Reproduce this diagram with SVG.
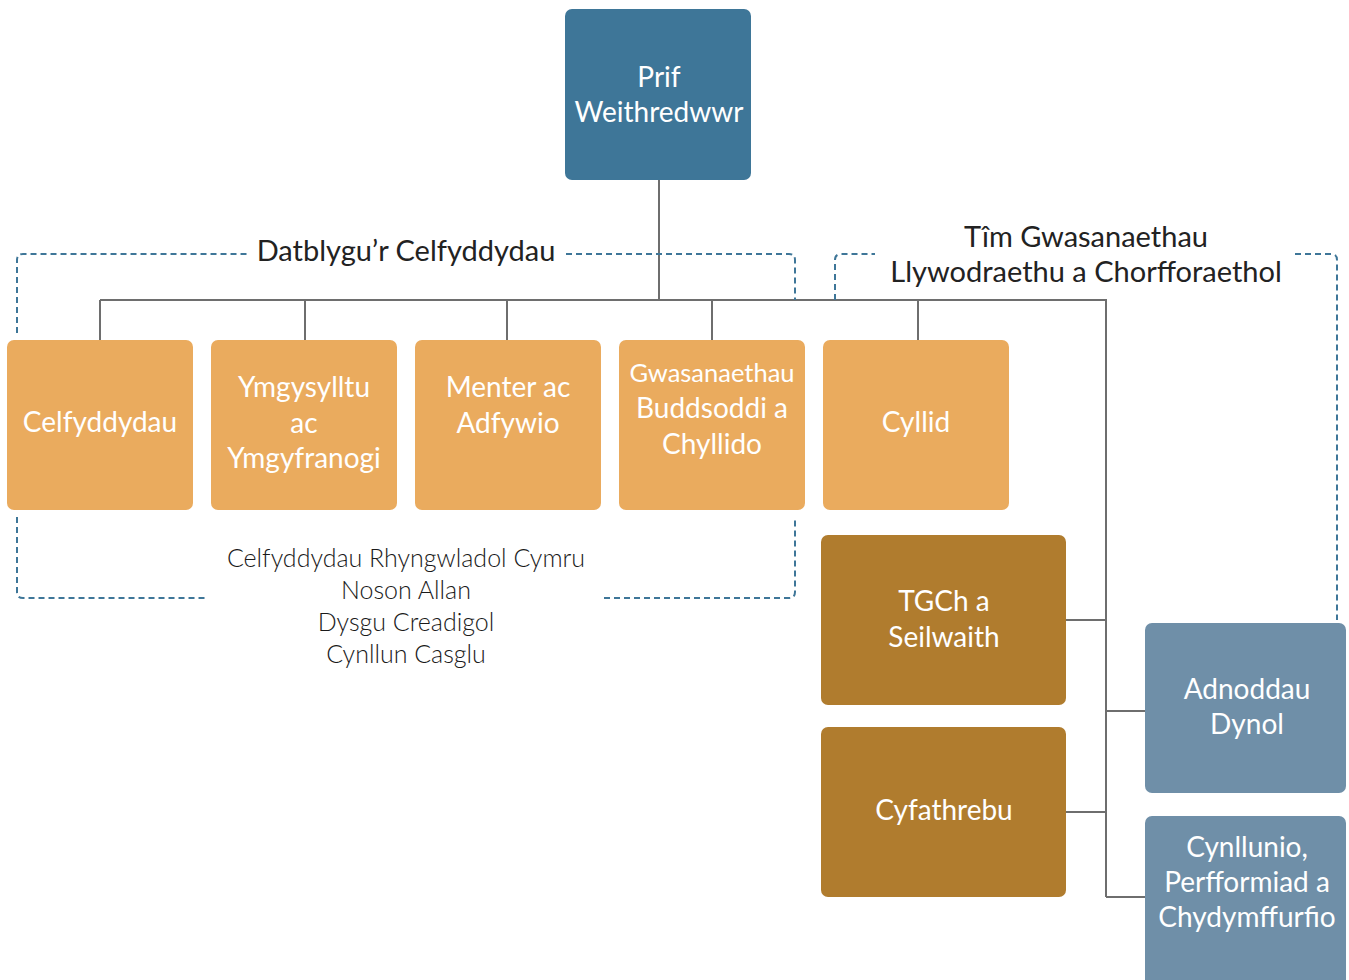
<svg xmlns="http://www.w3.org/2000/svg" width="1349" height="980" viewBox="0 0 1349 980">
<style>
.n text{font-family:Lato,"Open Sans","Liberation Sans",sans-serif;font-size:28px;fill:#ffffff;text-anchor:middle;dominant-baseline:central}
.lbl{font-family:Lato,"Open Sans","Liberation Sans",sans-serif;font-size:29px;fill:#222222;text-anchor:middle;dominant-baseline:central}
.lst{font-family:Lato,"Open Sans","Liberation Sans",sans-serif;font-size:25px;font-weight:300;fill:#1a1a1a;text-anchor:middle;dominant-baseline:central}
.c{fill:none;stroke:#6e6e6e;stroke-width:2}
.d{fill:none;stroke:#3e7698;stroke-width:2;stroke-dasharray:6 4}
.top{fill:#3e7698}.or{fill:#eaab5e}.br{fill:#b07c2e}.bg{fill:#6f8fa8}
</style>
<rect width="1349" height="980" fill="#ffffff"/>
<g id="connectors">
<path class="c" d="M659 180V300M100 300H1106V897M100 300V340M305 300V340M507 300V340M712 300V340M918 300V340M1066 620H1106M1066 812H1106M1106 711H1145M1106 897H1145"/>
</g>
<g id="groups">
<path class="d" d="M17 333V260Q17 254 23 254H248M566 254H789Q795 254 795 260V300"/>
<path class="d" d="M17 517V592Q17 598 23 598H208M604 598H789Q795 598 795 592V517"/>
<path class="d" d="M835 300V260Q835 254 841 254H875M1295 254H1331Q1337 254 1337 260V620"/>
<text class="lbl" x="406" y="249">Datblygu’r Celfyddydau</text>
<text class="lbl" x="1086" y="235">Tîm Gwasanaethau</text>
<text class="lbl" x="1086" y="270">Llywodraethu a Chorfforaethol</text>
<text class="lst" x="406" y="557">Celfyddydau Rhyngwladol Cymru</text>
<text class="lst" x="406" y="589">Noson Allan</text>
<text class="lst" x="406" y="621">Dysgu Creadigol</text>
<text class="lst" x="406" y="653">Cynllun Casglu</text>
</g>
<g id="prif" class="n"><rect class="top" x="565" y="9" width="186" height="171" rx="7"/><text x="659" y="76">Prif</text><text x="659" y="111">Weithredwwr</text></g>
<g id="celfyddydau" class="n"><rect class="or" x="7" y="340" width="186" height="170" rx="7"/><text x="100" y="421">Celfyddydau</text></g>
<g id="ymgysylltu" class="n"><rect class="or" x="211" y="340" width="186" height="170" rx="7"/><text x="304" y="386">Ymgysylltu</text><text x="304" y="422">ac</text><text x="304" y="457">Ymgyfranogi</text></g>
<g id="menter" class="n"><rect class="or" x="415" y="340" width="186" height="170" rx="7"/><text x="508" y="386">Menter ac</text><text x="508" y="422">Adfywio</text></g>
<g id="gwasanaethau" class="n"><rect class="or" x="619" y="340" width="186" height="170" rx="7"/><text x="712" y="372" style="font-size:25.5px">Gwasanaethau</text><text x="712" y="407">Buddsoddi a</text><text x="712" y="443">Chyllido</text></g>
<g id="cyllid" class="n"><rect class="or" x="823" y="340" width="186" height="170" rx="7"/><text x="916" y="421">Cyllid</text></g>
<g id="tgch" class="n"><rect class="br" x="821" y="535" width="245" height="170" rx="7"/><text x="944" y="600">TGCh a</text><text x="944" y="636">Seilwaith</text></g>
<g id="cyfathrebu" class="n"><rect class="br" x="821" y="727" width="245" height="170" rx="7"/><text x="944" y="809">Cyfathrebu</text></g>
<g id="adnoddau" class="n"><rect class="bg" x="1145" y="623" width="201" height="170" rx="7"/><text x="1247" y="688">Adnoddau</text><text x="1247" y="723">Dynol</text></g>
<g id="cynllunio" class="n"><rect class="bg" x="1145" y="816" width="201" height="180" rx="7"/><text x="1247" y="846">Cynllunio,</text><text x="1247" y="881">Perfformiad a</text><text x="1247" y="916">Chydymffurfio</text></g>
</svg>
